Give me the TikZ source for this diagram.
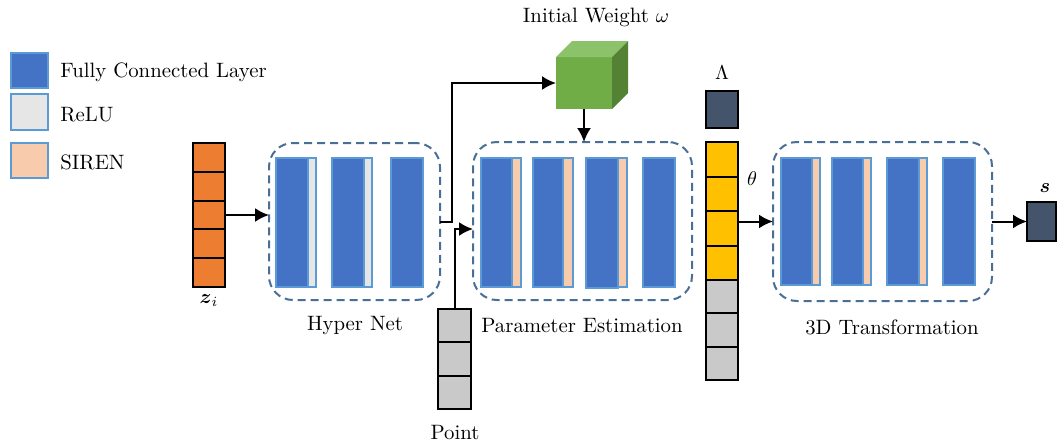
\documentclass[tikz,border=0pt]{standalone}
\usepackage{amsmath}
\usetikzlibrary{arrows.meta}

\definecolor{fcblue}{HTML}{4472C4}
\definecolor{barline}{HTML}{5B9BD5}
\definecolor{relugray}{HTML}{E7E6E6}
\definecolor{sirenpeach}{HTML}{F8CBAD}
\definecolor{zorange}{HTML}{ED7D31}
\definecolor{thyellow}{HTML}{FFC000}
\definecolor{cellgray}{HTML}{C9C9C9}
\definecolor{slate}{HTML}{44546A}
\definecolor{grpline}{HTML}{4A6F94}
\definecolor{cubefront}{HTML}{70AD47}
\definecolor{cubetop}{HTML}{8CC26A}
\definecolor{cubeside}{HTML}{548235}

\begin{document}
\begin{tikzpicture}[x=0.5pt,y=-0.5pt,
  sz/.style 2 args={minimum width=#1*0.5pt, minimum height=#2*0.5pt},
  blk/.style={inner sep=0pt, outer sep=0pt, anchor=north west},
  fc/.style={blk, draw=barline, fill=fcblue, line width=0.6pt},
  relu/.style={blk, draw=barline, fill=relugray, line width=0.6pt},
  siren/.style={blk, draw=barline, fill=sirenpeach, line width=0.6pt},
  legendbox/.style={blk, draw=barline, line width=1.2pt},
  cell/.style={blk, draw=black, line width=1pt},
  group/.style={blk, draw=grpline, dash pattern=on 4pt off 2.5pt, line width=1pt, rounded corners=12pt},
  lbl/.style={font=\fontsize{10.4}{12.5}\selectfont, inner sep=0pt},
  flow/.style={draw, line width=1pt, -{Latex[length=7pt,width=7pt]}}
]
\useasboundingbox (0,0) rectangle (1057,446);

% legend
\node[legendbox, fill=fcblue, sz={37}{35}] (lgfc) at (11,53) {};
\node[legendbox, fill=relugray, sz={37}{36}] (lgrelu) at (11,94) {};
\node[legendbox, fill=sirenpeach, sz={37}{35}] (lgsiren) at (11,143) {};
\node[lbl, anchor=west] (lgfct) at (60,72) {Fully Connected Layer};
\node[lbl, anchor=west] (lgrelut) at (60,115) {ReLU};
\node[lbl, anchor=west] (lgsirent) at (60,162) {SIREN};

% latent code z_i
\foreach \k in {1,...,5}
  \node[cell, fill=zorange, sz={32}{28.8}] (z\k) at (193,{143+(\k-1)*28.8}) {};
\node[lbl] (zlbl) at (209,301) {$\boldsymbol{z}_{i}$};

% hyper net
\node[group, sz={171}{157}] (hyper) at (269,143) {};
\node[fc, sz={32}{129}] (hb1) at (276,158) {};
\node[relu, sz={8}{129}] (hs1) at (308,158) {};
\node[fc, sz={32}{129}] (hb2) at (332,158) {};
\node[relu, sz={8}{129}] (hs2) at (364,158) {};
\node[fc, sz={32}{129}] (hb3) at (391,158) {};
\node[lbl] (hyperlbl) at (355,326) {Hyper Net};

% initial weight cube
\node[blk, fill=cubefront, sz={56}{52}] (cube) at (556,57) {};
\fill[cubetop] (cube.north west) -- ++(16,-16) -- ++(56,0) -- (cube.north east) -- cycle;
\fill[cubeside] (cube.north east) -- ++(16,-16) -- ++(0,52) -- (cube.south east) -- cycle;
\node[lbl] (cubelbl) at (596,17) {Initial Weight $\omega$};

% parameter estimation
\node[group, sz={219}{158}] (param) at (473,142) {};
\node[fc, sz={31}{129}] (pb1) at (481,158) {};
\node[siren, sz={9}{129}] (ps1) at (512,158) {};
\node[fc, sz={30}{129}] (pb2) at (533,158) {};
\node[siren, sz={10}{129}] (ps2) at (563,158) {};
\node[fc, sz={32}{130}] (pb3) at (586,158) {};
\node[siren, sz={9}{129}] (ps3) at (618,158) {};
\node[fc, sz={32}{129}] (pb4) at (643,158) {};
\node[lbl] (paramlbl) at (582,326) {Parameter Estimation};

% sample point
\foreach \k in {1,...,3}
  \node[cell, fill=cellgray, sz={33}{33.3}] (p\k) at (438,{309+(\k-1)*33.3}) {};
\node[lbl] (pointlbl) at (455,433) {Point};

% Lambda and theta
\node[cell, fill=slate, sz={32}{37}] (lam) at (706,91) {};
\node[lbl] (lamlbl) at (722,73) {$\Lambda$};
\foreach \k in {1,...,4}
  \node[cell, fill=thyellow, sz={32}{34.5}] (th\k) at (706,{142+(\k-1)*34.5}) {};
\foreach \k in {5,...,7}
  \node[cell, fill=cellgray, sz={32}{33.3}] (th\k) at (706,{280+(\k-5)*33.3}) {};
\node[lbl] (thlbl) at (752,179) {$\theta$};

% 3D transformation
\node[group, sz={219}{159}] (trans) at (773,142) {};
\node[fc, sz={31}{127}] (tb1) at (781,158) {};
\node[siren, sz={8}{127}] (ts1) at (812,158) {};
\node[fc, sz={31}{127}] (tb2) at (832,158) {};
\node[siren, sz={8}{127}] (ts2) at (863,158) {};
\node[fc, sz={32}{127}] (tb3) at (887,158) {};
\node[siren, sz={8}{127}] (ts3) at (919,158) {};
\node[fc, sz={32}{127}] (tb4) at (943,158) {};
\node[lbl] (translbl) at (892,327) {3D Transformation};

% output
\node[cell, fill=slate, sz={29}{39}] (out) at (1027,202) {};
\node[lbl] (outlbl) at (1045,188) {$\boldsymbol{s}$};

% connectors
\coordinate (hbend) at (452,0);
\draw[flow] (z3.east) -- (z3.east -| hyper.west);
\draw[flow] (hyper.east) -- (hyper.east -| hbend) |- (cube.west);
\draw[flow] (cube.south) -- (cube.south |- param.north);
\draw[flow] (p1.north) |- ([yshift=-4pt]param.west);
\draw[flow] (trans.west -| th3.east) -- (trans.west);
\draw[flow] (trans.east) -- (out.west);
\end{tikzpicture}
\end{document}
